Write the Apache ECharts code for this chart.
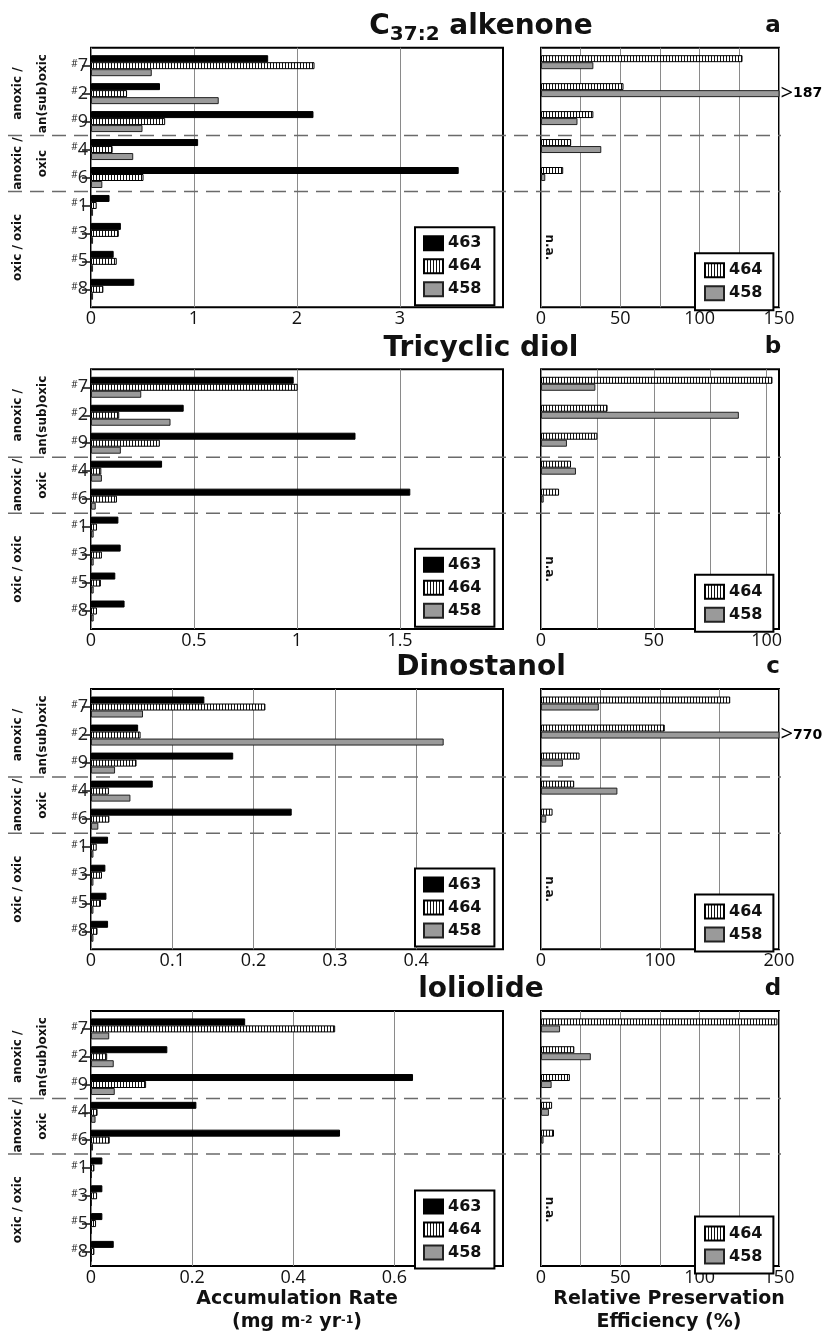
<!DOCTYPE html>
<html>
<head>
<meta charset="utf-8">
<script src="https://cdn.jsdelivr.net/npm/echarts@6/dist/echarts.min.js"></script>
<style>
  html, body { margin: 0; padding: 0; background: #fff; }
  #chart { width: 824px; height: 1335px; }
</style>
</head>
<body>
<div id="chart"></div>
<script>
// Sites, grouped by redox regime (top to bottom)
const sites = ['#7', '#2', '#9', '#4', '#6', '#1', '#3', '#5', '#8'];
const legendAll = ['463', '464', '458'];
const legendEff = ['464', '458'];
const noBar = [null, null, null, null, null, null, null, null, null];

// C37:2 alkenone: accumulation rate (mg m-2 yr-1) per trap depth
const alkenoneRate463 = [1.72, 0.67, 2.16, 1.04, 3.57, 0.18, 0.29, 0.22, 0.42];
const alkenoneRate464 = [2.17, 0.35, 0.72, 0.21, 0.51, 0.055, 0.27, 0.25, 0.12];
const alkenoneRate458 = [0.59, 1.24, 0.50, 0.41, 0.11, 0.02, 0.02, 0.02, 0.02];
// relative preservation efficiency (%)
const alkenoneEff464 = [127, 52, 33, 19, 14, null, null, null, null];
const alkenoneEff458 = [33, 187, 23, 38, 2.7, null, null, null, null];

// Tricyclic diol
const diolRate463 = [0.984, 0.45, 1.284, 0.345, 1.55, 0.133, 0.144, 0.118, 0.163];
const diolRate464 = [1.003, 0.137, 0.334, 0.05, 0.126, 0.029, 0.053, 0.048, 0.029];
const diolRate458 = [0.244, 0.386, 0.145, 0.053, 0.023, 0.013, 0.013, 0.013, 0.013];
const diolEff464 = [102.6, 29.5, 25, 13.3, 8, null, null, null, null];
const diolEff458 = [24.1, 87.7, 11.5, 15.5, 1.2, null, null, null, null];

// Dinostanol
const dinostanolRate463 = [0.1395, 0.058, 0.175, 0.076, 0.247, 0.021, 0.0177, 0.019, 0.021];
const dinostanolRate464 = [0.2146, 0.061, 0.056, 0.022, 0.0226, 0.007, 0.0135, 0.0123, 0.008];
const dinostanolRate458 = [0.064, 0.434, 0.0296, 0.0485, 0.009, 0.003, 0.003, 0.003, 0.003];
const dinostanolEff464 = [159, 104, 32.4, 27.9, 9.7, null, null, null, null];
const dinostanolEff458 = [48.6, 770, 18.4, 64.2, 4.4, null, null, null, null];

// Loliolide
const loliolideRate463 = [0.305, 0.151, 0.637, 0.2085, 0.4926, 0.0225, 0.0225, 0.0225, 0.045];
const loliolideRate464 = [0.483, 0.032, 0.109, 0.013, 0.037, 0.0067, 0.012, 0.01, 0.0067];
const loliolideRate458 = [0.036, 0.045, 0.047, 0.009, 0.004, 0.002, 0.002, 0.002, 0.002];
const loliolideEff464 = [149, 21, 18.2, 7, 8.2, null, null, null, null];
const loliolideEff458 = [12, 31.4, 6.7, 5, 1.6, null, null, null, null];

// Axis tick labels and grid lines
const alkenoneRateTicks = [0, 1, 2, 3];
const diolRateTicks = [0, 0.5, 1, 1.5];
const dinostanolRateTicks = [0, 0.1, 0.2, 0.3, 0.4];
const loliolideRateTicks = [0, 0.2, 0.4, 0.6];
const alkenoneEffTicks = [0, 50, 100, 150];
const diolEffTicks = [0, 50, 100];
const dinostanolEffTicks = [0, 100, 200];
const loliolideEffTicks = [0, 50, 100, 150];
const alkenoneEffLines = [0, 25, 50, 75, 100, 125, 150];
const diolEffLines = [0, 25, 50, 75, 100];
const dinostanolEffLines = [0, 50, 100, 150, 200];
const loliolideEffLines = [0, 25, 50, 75, 100, 125, 150];

const FONT = '"Open Sans", "DejaVu Sans", sans-serif';
const BOLD = '"DejaVu Sans", "Open Sans", sans-serif';

const panels = [
  { letter: 'a', title: '{b|C}{s|37:2}{b| alkenone}', top: 47.7, height: 259.6,
    rate: [alkenoneRate463, alkenoneRate464, alkenoneRate458], rateMax: 4,
    rateTicks: alkenoneRateTicks, rateLines: alkenoneRateTicks,
    eff: [alkenoneEff464, alkenoneEff458], effMax: 150,
    effTicks: alkenoneEffTicks, effLines: alkenoneEffLines },
  { letter: 'b', title: '{b|Tricyclic diol}', top: 369.3, height: 259.7,
    rate: [diolRate463, diolRate464, diolRate458], rateMax: 2,
    rateTicks: diolRateTicks, rateLines: diolRateTicks,
    eff: [diolEff464, diolEff458], effMax: 105.5,
    effTicks: diolEffTicks, effLines: diolEffLines },
  { letter: 'c', title: '{b|Dinostanol}', top: 689, height: 260.3,
    rate: [dinostanolRate463, dinostanolRate464, dinostanolRate458], rateMax: 0.507,
    rateTicks: dinostanolRateTicks, rateLines: dinostanolRateTicks,
    eff: [dinostanolEff464, dinostanolEff458], effMax: 200,
    effTicks: dinostanolEffTicks, effLines: dinostanolEffLines },
  { letter: 'd', title: '{b|loliolide}', top: 1011, height: 258.3,
    rate: [loliolideRate463, loliolideRate464, loliolideRate458], rateMax: 0.815,
    rateTicks: loliolideRateTicks, rateLines: loliolideRateTicks,
    eff: [loliolideEff464, loliolideEff458], effMax: 150,
    effTicks: loliolideEffTicks, effLines: loliolideEffLines }
];

const LEFT_X = 91, LEFT_W = 412, RIGHT_X = 541, RIGHT_W = 238, INSET = 4;

function stripeCanvas() {
  const c = document.createElement('canvas');
  c.width = 3; c.height = 4;
  const g = c.getContext('2d');
  g.fillStyle = '#ffffff'; g.fillRect(0, 0, 3, 4);
  g.fillStyle = '#111111'; g.fillRect(0, 0, 1, 4);
  return c;
}
const stripeFill = { image: stripeCanvas(), repeat: 'repeat' };

const styles = {
  '463': { color: '#000', borderColor: '#000', borderWidth: 1 },
  '464': { color: stripeFill, borderColor: '#000', borderWidth: 1 },
  '458': { color: '#9a9a9a', borderColor: '#222', borderWidth: 1 }
};

const grid = [], xAxis = [], yAxis = [], series = [], legend = [];

function frameAxes(gi, max, ticks, lines, isLast, name, namePad) {
  xAxis.push({
    type: 'value', gridIndex: gi, min: 0, max: max,
    axisLine: { show: false },
    axisTick: { show: false, customValues: lines },
    axisLabel: { customValues: ticks, fontFamily: FONT, fontSize: 18, color: '#111', margin: 3 },
    splitLine: { show: true, lineStyle: { color: '#8a8a8a', width: 1 } },
    name: isLast ? name : '',
    nameLocation: 'middle', nameGap: 22,
    nameTextStyle: {
      fontFamily: BOLD, fontSize: 19, fontWeight: 'bold', color: '#111', lineHeight: 23,
      padding: namePad,
      rich: { sup: { fontFamily: BOLD, fontSize: 11, fontWeight: 'bold', color: '#111', verticalAlign: 'top', lineHeight: 23, padding: [4, 0, 0, 0] } }
    }
  });
  yAxis.push({ type: 'value', gridIndex: gi, show: false, splitLine: { show: false } });
}

panels.forEach((p, i) => {
  const base = i * 4;
  const isLast = i === panels.length - 1;
  // left frame (grid lines + tick labels)
  grid.push({ left: LEFT_X, top: p.top, width: LEFT_W, height: p.height, show: true, borderColor: '#000', borderWidth: 2, backgroundColor: 'transparent' });
  frameAxes(base, p.rateMax, p.rateTicks, p.rateLines, isLast,
    'Accumulation Rate\n(mg m{sup|-2} yr{sup|-1})', [0, 0, 0, 0]);
  // left bars
  grid.push({ left: LEFT_X, top: p.top + INSET, width: LEFT_W, height: p.height - 2 * INSET });
  xAxis.push({ type: 'value', gridIndex: base + 1, min: 0, max: p.rateMax, show: false });
  yAxis.push({
    type: 'category', gridIndex: base + 1, data: sites, inverse: true,
    axisLine: { show: false },
    axisTick: { show: true, alignWithLabel: true, length: 9, lineStyle: { color: '#111', width: 1.5 } },
    axisLabel: {
      margin: 3, color: '#222',
      formatter: v => '{h|#}{n|' + v.slice(1) + '}',
      rich: {
        h: { fontFamily: FONT, fontSize: 10, color: '#222', verticalAlign: 'top', lineHeight: 14 },
        n: { fontFamily: FONT, fontSize: 18, color: '#222', verticalAlign: 'middle', lineHeight: 14 }
      }
    },
    splitLine: { show: false }
  });
  legendAll.forEach((name, k) => {
    series.push({
      type: 'bar', name: name, xAxisIndex: base + 1, yAxisIndex: base + 1,
      data: p.rate[k], barWidth: 7, barGap: '0%', clip: true,
      itemStyle: styles[name], emphasis: { disabled: true }
    });
  });

  // right frame
  grid.push({ left: RIGHT_X, top: p.top, width: RIGHT_W, height: p.height, show: true, borderColor: '#000', borderWidth: 2, backgroundColor: 'transparent' });
  frameAxes(base + 2, p.effMax, p.effTicks, p.effLines, isLast,
    'Relative Preservation\nEfficiency (%)', [0, 0, 0, 18]);
  // right bars
  grid.push({ left: RIGHT_X, top: p.top + INSET, width: RIGHT_W, height: p.height - 2 * INSET });
  xAxis.push({ type: 'value', gridIndex: base + 3, min: 0, max: p.effMax, show: false });
  yAxis.push({ type: 'category', gridIndex: base + 3, data: sites, inverse: true, show: false });
  const effMax = p.effMax;
  legendEff.forEach((name, k) => {
    series.push({
      type: 'bar', name: name, xAxisIndex: base + 3, yAxisIndex: base + 3,
      data: p.eff[k], barWidth: 7, barGap: '0%', clip: true,
      itemStyle: styles[name], emphasis: { disabled: true },
      label: {
        show: true, position: 'right', distance: 1,
        formatter: q => (q.value > effMax ? '{c|>}{v|' + q.value + '}' : ''),
        rich: {
          c: { fontFamily: FONT, fontSize: 22, fontWeight: 'normal', color: '#000' },
          v: { fontFamily: BOLD, fontSize: 14, fontWeight: 'bold', color: '#000' }
        }
      }
    });
  });
  // third slot kept empty so 464/458 sit in the same rows as on the left
  series.push({
    type: 'bar', name: 'slot', xAxisIndex: base + 3, yAxisIndex: base + 3,
    data: noBar, barWidth: 7, barGap: '0%'
  });

  const legendCommon = {
    orient: 'vertical', itemWidth: 19, itemHeight: 14, itemGap: 7,
    borderColor: '#000', borderWidth: 2, backgroundColor: '#fff',
    selectedMode: false, icon: 'rect', z: 10,
    textStyle: { fontFamily: BOLD, fontSize: 16, fontWeight: 'bold', color: '#111' }
  };
  legend.push(Object.assign({}, legendCommon, {
    data: legendAll, left: 415, top: p.top + 179.5, padding: [8, 13, 8, 8]
  }));
  legend.push(Object.assign({}, legendCommon, {
    data: legendEff, left: 695, top: p.top + 205.5, padding: [9, 11, 9, 9]
  }));
});

const chart = echarts.init(document.getElementById('chart'), null, { renderer: 'canvas' });
chart.setOption({
  animation: false,
  backgroundColor: '#fff',
  textStyle: { fontFamily: FONT },
  grid, xAxis, yAxis, series, legend
});

// Separators, regime labels, titles: placed from the category axis positions
const graphic = [];
const boldText = (x, y, text, size, extra) => Object.assign({
  type: 'text', x: x, y: y, z: 20,
  style: Object.assign({ text: text, fill: '#111', font: 'bold ' + size + 'px ' + BOLD, align: 'center', verticalAlign: 'middle' }, extra || {})
});

panels.forEach((p, i) => {
  const gi = i * 4 + 1;
  const yc = idx => chart.convertToPixel({ gridIndex: gi }, [0, idx])[1];
  const sep1 = (yc(2) + yc(3)) / 2;
  const sep2 = (yc(4) + yc(5)) / 2;
  [sep1, sep2].forEach(y => {
    graphic.push({
      type: 'line', z: 15, silent: true,
      shape: { x1: 8, y1: y, x2: 781, y2: y },
      style: { stroke: '#6a6a6a', lineWidth: 1.5, lineDash: [14, 8] }
    });
  });
  const rot = Math.PI / 2;
  const g1 = boldText(30.5, (yc(0) + yc(2)) / 2, 'anoxic /\nan(sub)oxic', 12, { lineHeight: 25 });
  g1.rotation = rot; graphic.push(g1);
  const g2 = boldText(30.5, (yc(3) + yc(4)) / 2, 'anoxic /\noxic', 12, { lineHeight: 25 });
  g2.rotation = rot; graphic.push(g2);
  const g3 = boldText(18, (yc(5) + yc(8)) / 2, 'oxic / oxic', 12);
  g3.rotation = rot; graphic.push(g3);
  const na = boldText(549, (yc(6) + yc(7)) / 2, 'n.a.', 12);
  na.rotation = -rot; graphic.push(na);

  // panel title and letter
  graphic.push({
    type: 'text', x: 481, y: p.top - 21, z: 20,
    style: {
      text: p.title, align: 'center', verticalAlign: 'middle',
      rich: {
        b: { fontFamily: BOLD, fontSize: 28, fontWeight: 'bold', fill: '#111', color: '#111', lineHeight: 36, verticalAlign: 'middle' },
        s: { fontFamily: BOLD, fontSize: 20, fontWeight: 'bold', fill: '#111', color: '#111', lineHeight: 36, verticalAlign: 'bottom' }
      }
    }
  });
  graphic.push(boldText(773, p.top - 22, p.letter, 23));
});

chart.setOption({ graphic: graphic });
</script>
</body>
</html>
